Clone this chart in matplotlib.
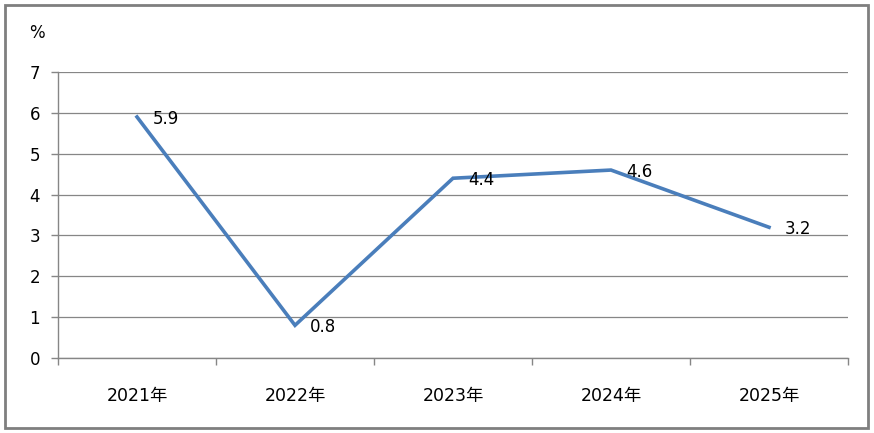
import matplotlib
matplotlib.use("Agg")
import matplotlib.pyplot as plt
from matplotlib.patches import Rectangle

plt.rcParams['font.family'] = ['DejaVu Sans', 'Noto Sans CJK SC']

categories = ["2021年", "2022年", "2023年", "2024年", "2025年"]
values = [5.9, 0.8, 4.4, 4.6, 3.2]
labels = ["5.9", "0.8", "4.4", "4.6", "3.2"]
yticks = [0, 1, 2, 3, 4, 5, 6, 7]

W, H = 874, 433
fig = plt.figure(figsize=(W / 100, H / 100), dpi=100)
fig.patch.set_facecolor('white')
fig.patches.append(Rectangle((5 / W, 5 / H), 863 / W, 423 / H, transform=fig.transFigure,
                             fill=False, edgecolor='#7f7f7f', linewidth=2))

ax = fig.add_axes([58 / W, (H - 358) / H, 790 / W, 286 / H])
x = list(range(len(categories)))
ax.plot(x, values, color='#4a7ebb', linewidth=2.6, solid_joinstyle='miter')
for xi, v, t in zip(x, values, labels):
    ax.annotate(t, (xi, v), xytext=(11, -1.5), textcoords='offset points',
                ha='left', va='center', fontsize=12, color='black')

ax.set_xlim(-0.5, len(categories) - 0.5)
ax.set_ylim(0, 7)
ax.set_yticks(yticks)
ax.set_yticklabels([str(t) for t in yticks], fontsize=12)
ax.set_xticks(x)
ax.set_xticklabels(categories, fontsize=12.5, family=['DejaVu Sans', 'Noto Sans CJK SC'])
ax.set_xticks([i - 0.5 for i in range(len(categories) + 1)], minor=True)
ax.tick_params(axis='x', which='major', length=0, pad=21)
ax.tick_params(axis='x', which='minor', length=5, color='#868686', width=1)
ax.tick_params(axis='y', length=5, color='#868686', width=1, pad=8)
ax.grid(axis='y', color='#868686', linewidth=0.9)
ax.set_axisbelow(True)
for s in ['top', 'right']:
    ax.spines[s].set_visible(False)
for s in ['left', 'bottom']:
    ax.spines[s].set_color('#868686')
    ax.spines[s].set_linewidth(1)
fig.text(29 / W, (H - 33) / H, '%', fontsize=12, va='center', ha='left')

fig.savefig('out.png', dpi=100)
